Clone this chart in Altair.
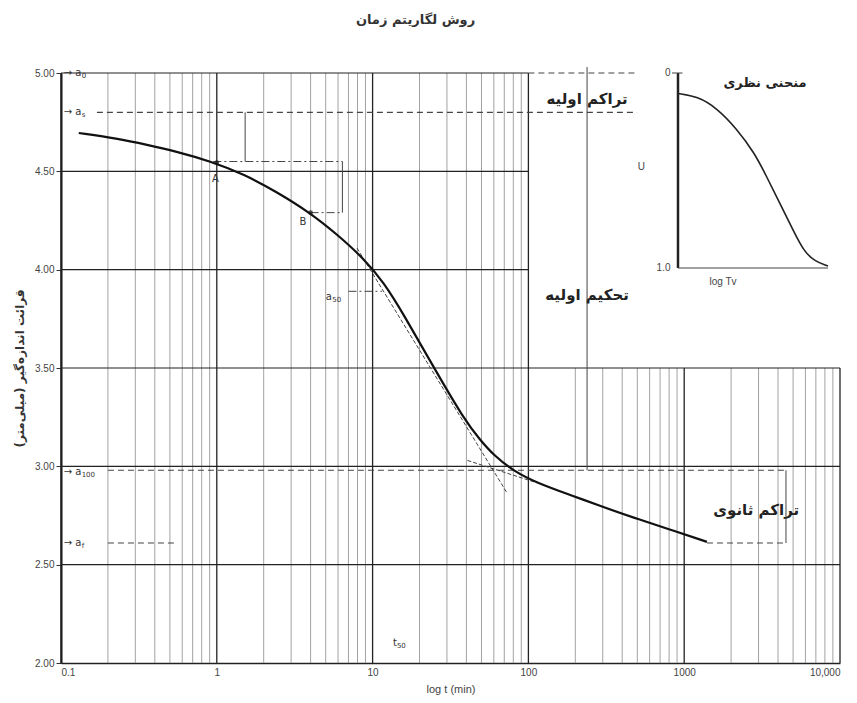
import altair as alt
import pandas as pd

# ---------------- data ----------------
curve_t = [0.13, 0.23, 0.356, 0.556, 0.904, 1.50, 2.43, 3.96, 5.91, 8.82, 11.8, 15.9,
           24.8, 38.6, 48.9, 60.1, 80.8, 113.6, 185, 288, 476, 776, 1400]
curve_a = [4.695, 4.667, 4.635, 4.600, 4.552, 4.485, 4.395, 4.290, 4.180, 4.055, 3.935, 3.770,
           3.500, 3.240, 3.135, 3.055, 2.975, 2.916, 2.855, 2.799, 2.738, 2.684, 2.616]

tan_group = ["steep", "steep", "sec", "sec"]
tan_t = [7.94, 72.9, 40.6, 113.6]
tan_a = [4.11, 2.865, 3.03, 2.916]

pts_t = [1.0, 4.0]
pts_a = [4.545, 4.29]

# horizontal lines: level, start, end
hsolid_a = [5.0, 4.5, 4.0, 3.5, 3.0, 2.5]
hsolid_t1 = [0.1, 0.1, 0.1, 0.1, 0.1, 0.1]
hsolid_t2 = [100, 100, 100, 10000, 10000, 10000]

hdash_a = [5.0, 4.80, 2.98, 2.61, 2.61]
hdash_t1 = [100, 0.17, 0.2, 0.2, 1400]
hdash_t2 = [498, 498, 4500, 0.55, 4500]

hbr_a = [4.55, 4.29, 3.89]
hbr_t1 = [0.95, 4.0, 7.0]
hbr_t2 = [6.4, 6.4, 11.5]

vbr_t = [6.4, 1.52, 238, 4500]
vbr_a1 = [4.29, 4.55, 2.98, 2.61]
vbr_a2 = [4.55, 4.80, 5.03, 2.98]

# grid
major_t = [0.1, 1, 10, 100, 1000, 10000]
major_top = [5.0, 5.0, 5.0, 5.0, 3.5, 3.5]
minor_t = [m * d for d in [0.1, 1, 10, 100, 1000] for m in range(2, 10)]
minor_top = [5.0 if t < 100 else 3.5 for t in minor_t]

# annotation texts (main symbol + subscript)
lab_t = [0.104, 0.104, 0.104, 0.104, 5.0, 13.5, 0.93, 3.4]
lab_a = [5.0, 4.80, 2.97, 2.61, 3.86, 2.10, 4.46, 4.24]
lab_s = ["→ a", "→ a", "→ a", "→ a", "a", "t", "A", "B"]
lab_sub = ["0", "s", "100", "f", "50", "50", "", ""]
lab_dx = [18, 18, 18, 18, 6.5, 4, 0, 0]

fa_t = [238, 238, 2900]
fa_a = [4.87, 3.87, 2.78]
fa_s = ["تراکم اولیه", "تحکیم اولیه", "تراکم ثانوی"]

# inset (theoretical curve), normalised log Tv position and U
ins_x = [0, 0.13, 0.26, 0.39, 0.51, 0.59, 0.68, 0.77, 0.84, 0.91, 1.0]
ins_u = [0.105, 0.12, 0.18, 0.285, 0.41, 0.53, 0.67, 0.81, 0.915, 0.965, 0.99]

# ---------------- chart ----------------
W, H = 779, 590
xs = alt.Scale(type="log", domain=[0.1, 10000])
ys = alt.Scale(domain=[2.0, 5.0], zero=False, nice=False)
xaxis = alt.Axis(values=major_t, title="log t (min)", grid=False,
                 labelExpr="datum.value >= 10000 ? '10,000' : format(datum.value, '~g')",
                 labelFont="Liberation Sans", labelFontSize=10, labelColor="#444",
                 titleFont="Liberation Sans", titleFontSize=11, titleFontWeight="normal",
                 titleColor="#444", tickSize=0, labelPadding=4, domainColor="#222",
                 domainWidth=1.5, titlePadding=6)
yaxis = alt.Axis(values=[2.0, 2.5, 3.0, 3.5, 4.0, 4.5, 5.0], format=".2f",
                 title="قرائت اندازه‌گیر (میلی‌متر)", grid=False,
                 labelFont="Liberation Sans", labelFontSize=10, labelColor="#444",
                 titleFont="DejaVu Sans", titleFontSize=12, titleFontWeight="bold",
                 titleColor="#333", tickSize=5, tickColor="#333", domainColor="#111",
                 domainWidth=2, titlePadding=8)


def X(f):
    return alt.X(f, type="quantitative", scale=xs, axis=xaxis)


def Y(f):
    return alt.Y(f, type="quantitative", scale=ys, axis=yaxis)


minor = alt.Chart(pd.DataFrame({"t": minor_t, "top": minor_top, "b": 2.0})).mark_rule(
    color="#8a8a8a", strokeWidth=0.8).encode(x=X("t"), y=Y("b"), y2="top")
major = alt.Chart(pd.DataFrame({"t": major_t, "top": major_top, "b": 2.0})).mark_rule(
    color="#222", strokeWidth=1.3).encode(x=X("t"), y=Y("b"), y2="top")
hsolid = alt.Chart(pd.DataFrame({"a": hsolid_a, "t1": hsolid_t1, "t2": hsolid_t2})).mark_rule(
    color="#222", strokeWidth=1.2).encode(x=X("t1"), x2="t2", y=Y("a"))
hdash = alt.Chart(pd.DataFrame({"a": hdash_a, "t1": hdash_t1, "t2": hdash_t2})).mark_rule(
    color="#444", strokeWidth=1.1, strokeDash=[6, 4]).encode(x=X("t1"), x2="t2", y=Y("a"))
hbr = alt.Chart(pd.DataFrame({"a": hbr_a, "t1": hbr_t1, "t2": hbr_t2})).mark_rule(
    color="#444", strokeWidth=1, strokeDash=[8, 3, 2, 3]).encode(x=X("t1"), x2="t2", y=Y("a"))
vbr = alt.Chart(pd.DataFrame({"t": vbr_t, "a1": vbr_a1, "a2": vbr_a2})).mark_rule(
    color="#444", strokeWidth=1).encode(x=X("t"), y=Y("a1"), y2="a2")
tang = alt.Chart(pd.DataFrame({"g": tan_group, "t": tan_t, "a": tan_a})).mark_line(
    color="#444", strokeWidth=1, strokeDash=[4, 2]).encode(x=X("t"), y=Y("a"), detail="g")
curve = alt.Chart(pd.DataFrame({"t": curve_t, "a": curve_a, "o": list(range(len(curve_t)))})).mark_line(
    color="#111", strokeWidth=2.2, interpolate="basis").encode(x=X("t"), y=Y("a"), order="o")
pts = alt.Chart(pd.DataFrame({"t": pts_t, "a": pts_a})).mark_point(
    filled=True, color="#111", size=22).encode(x=X("t"), y=Y("a"))
labdf = pd.DataFrame({"t": lab_t, "a": lab_a, "s": lab_s, "sub": lab_sub, "dx": lab_dx})
labs = alt.Chart(labdf).mark_text(
    align="left", baseline="middle", font="DejaVu Sans", fontSize=10, color="#333").encode(
    x=X("t"), y=Y("a"), text="s")
subs = alt.layer(*[
    alt.Chart(labdf.iloc[[i]]).mark_text(
        align="left", baseline="middle", font="DejaVu Sans", fontSize=7, color="#333",
        dx=float(lab_dx[i]), dy=3).encode(x=X("t"), y=Y("a"), text="sub")
    for i in range(len(lab_t)) if lab_sub[i]
])
fa = alt.Chart(pd.DataFrame({"t": fa_t, "a": fa_a, "s": fa_s})).mark_text(
    align="center", baseline="middle", font="DejaVu Sans", fontSize=15, fontWeight="bold",
    color="#222").encode(x=X("t"), y=Y("a"), text="s")

main = alt.layer(minor, major, hsolid, hdash, hbr, vbr, tang, curve, pts, labs, subs, fa)

# inset with its own pixel-ranged scales
ixs = alt.Scale(domain=[0, 1], range=[617, 767])
iys = alt.Scale(domain=[0, 1], range=[0, 195])


def IX(f):
    return alt.X(f, type="quantitative", scale=ixs, axis=None)


def IY(f):
    return alt.Y(f, type="quantitative", scale=iys, axis=None)


ins_curve = alt.Chart(pd.DataFrame({"x": ins_x, "u": ins_u})).mark_line(
    color="#222", strokeWidth=1.6, interpolate="basis").encode(x=IX("x"), y=IY("u"))
ins_vax = alt.Chart(pd.DataFrame({"x": [0.0], "u1": [0.0], "u2": [1.0]})).mark_rule(
    color="#222", strokeWidth=2.5).encode(x=IX("x"), y=IY("u1"), y2="u2")
ins_hax = alt.Chart(pd.DataFrame({"x1": [0.0, -0.04], "x2": [1.0, 0.03], "u": [1.0, 0.0]})).mark_rule(
    color="#444", strokeWidth=1).encode(x=IX("x1"), x2="x2", y=IY("u"))
ins_txt = alt.Chart(pd.DataFrame({"x": [-0.05, -0.05, -0.22, 0.39],
                                  "u": [0.0, 1.0, 0.48, 1.07],
                                  "s": ["0", "1.0", "U", "log Tv"]})).mark_text(
    align="right", baseline="middle", font="Liberation Sans", fontSize=10, color="#444").encode(
    x=IX("x"), y=IY("u"), text="s")
ins_title = alt.Chart(pd.DataFrame({"x": [0.58], "u": [0.05], "s": ["منحنی نظری"]})).mark_text(
    align="center", baseline="middle", font="DejaVu Sans", fontSize=13, fontWeight="bold",
    color="#222").encode(x=IX("x"), y=IY("u"), text="s")
inset = alt.layer(ins_curve, ins_vax, ins_hax, ins_txt, ins_title)

chart = alt.layer(main, inset).resolve_scale(x="independent", y="independent").properties(
    width=W, height=H,
    title=alt.TitleParams("روش لگاریتم زمان", font="DejaVu Sans", fontSize=13,
                          fontWeight="bold", color="#333", offset=40, dx=-35),
    background="white",
).configure_view(stroke=None)

chart.save("out.html", embed_options={"renderer": "svg", "actions": False})
